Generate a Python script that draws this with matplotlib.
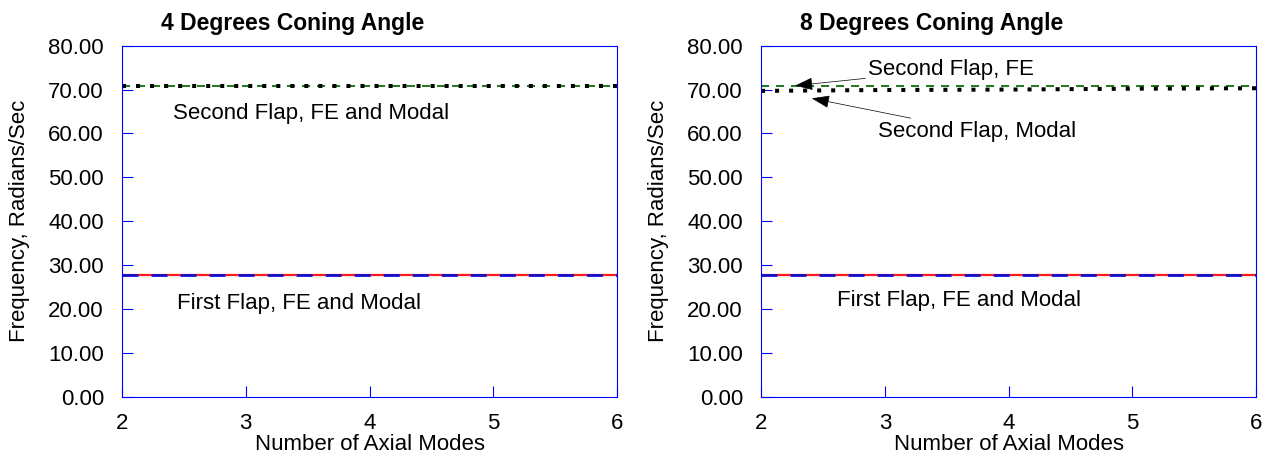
# -*- coding: utf-8 -*-
"""
Flap frequencies vs. number of axial modes, two coning angles
"""

# ================================ LIBRARIES ================================ #

import numpy as np
import matplotlib
matplotlib.use('Agg')
import matplotlib.pyplot as plt
from matplotlib.ticker import FormatStrFormatter

# =========================================================================== #


# ================================== DATA =================================== #

MODES = [2, 3, 4, 5, 6]   # number of axial modes

# 4 deg coning angle
C4_FIRST_FE     = [27.7, 27.7, 27.7, 27.7, 27.7]
C4_FIRST_MODAL  = [27.7, 27.7, 27.7, 27.7, 27.7]
C4_SECOND_FE    = [70.9, 70.9, 70.9, 70.9, 70.9]
C4_SECOND_MODAL = [70.9, 70.9, 70.9, 70.9, 70.9]

# 8 deg coning angle
C8_FIRST_FE     = [27.7, 27.7, 27.7, 27.7, 27.7]
C8_FIRST_MODAL  = [27.7, 27.7, 27.7, 27.7, 27.7]
C8_SECOND_FE    = [70.8, 70.8, 70.8, 70.8, 70.8]
C8_SECOND_MODAL = [69.7, 69.9, 70.0, 70.2, 70.3]

Y_TICKS = [0, 10, 20, 30, 40, 50, 60, 70, 80]
X_TICKS = [2, 3, 4, 5, 6]

# =========================================================================== #


# ================================ SETTINGS ================================= #

plt.rcParams['font.family']       = ['Liberation Sans', 'DejaVu Sans']
plt.rcParams['font.size']         = 16
plt.rcParams['lines.scale_dashes'] = False

FRAME = '#0000ff'
FS    = 16

# =========================================================================== #


# ================================ FUNCTIONS ================================ #
def draw_panel (ax, firstFE, firstModal, secondFE, secondModal, title) :
    # first flap: red solid under blue dashes
    ax.plot(MODES, firstFE, color='#ff1a1a', lw=1.6, solid_capstyle='butt')
    ax.plot(MODES, firstModal, color='#1010d0', lw=2.0,
            dashes=(11.5, 9.4), dash_capstyle='butt')

    # second flap: green dashes + black dots
    ax.plot(MODES, secondFE, color='#1a7a1a', lw=1.4,
            dashes=(5.8, 5.0), dash_capstyle='butt')
    ax.plot(MODES, secondModal, color='black', lw=2.9,
            dashes=(2.9, 7.2), dash_capstyle='butt')

    ax.set_xlim(2, 6)
    ax.set_ylim(0, 80)
    ax.set_xticks(X_TICKS)
    ax.set_yticks(Y_TICKS)
    ax.yaxis.set_major_formatter(FormatStrFormatter('%.2f'))

    # blue frame, inward ticks on bottom + left only
    for sp in ax.spines.values() :
        sp.set_color(FRAME)
        sp.set_linewidth(0.8)
    ax.tick_params(axis='both', direction='in', length=8, width=0.8,
                   color=FRAME, labelcolor='black', labelsize=FS,
                   top=False, right=False)
    ax.tick_params(axis='x', pad=12)
    ax.tick_params(axis='y', pad=13)

    ax.set_xlabel('Number of Axial Modes', fontsize=FS, labelpad=0)
    ax.set_ylabel('Frequency, Radians/Sec', fontsize=FS)
    ax.yaxis.set_label_coords(-0.185, 0.5)
    ax.set_title(title, fontsize=16.5, fontweight='bold', x=0.345, pad=11)
#   end draw_panel

# =========================================================================== #


# =================================== MAIN ================================== #
if __name__ == "__main__" :
    fig = plt.figure(figsize=(12.72, 4.62), dpi=100)
    axL = fig.add_axes([0.0959, 0.1414, 0.3892, 0.7597])
    axR = fig.add_axes([0.5983, 0.1414, 0.3892, 0.7597])

    draw_panel(axL, C4_FIRST_FE, C4_FIRST_MODAL, C4_SECOND_FE, C4_SECOND_MODAL,
               '4 Degrees Coning Angle')
    axL.text(2.41, 63.3, 'Second Flap, FE and Modal', fontsize=FS)
    axL.text(2.445, 20.0, 'First Flap, FE and Modal', fontsize=FS)

    draw_panel(axR, C8_FIRST_FE, C8_FIRST_MODAL, C8_SECOND_FE, C8_SECOND_MODAL,
               '8 Degrees Coning Angle')
    axR.text(2.61, 20.7, 'First Flap, FE and Modal', fontsize=FS)

    # thin leaders with small black heads
    arrow = dict(arrowstyle='-|>,head_length=0.7,head_width=0.25',
                 color='black', lw=0.5, shrinkA=0, shrinkB=0)
    axR.annotate('Second Flap, FE', xy=(2.275, 70.9), xytext=(2.865, 73.3),
                 fontsize=FS, arrowprops=arrow)
    axR.annotate('Second Flap, Modal', xy=(2.41, 68.0), xytext=(2.945, 59.2),
                 fontsize=FS, arrowprops=arrow)

    fig.savefig('out.png', dpi=100)
#   endif
# =========================================================================== #
